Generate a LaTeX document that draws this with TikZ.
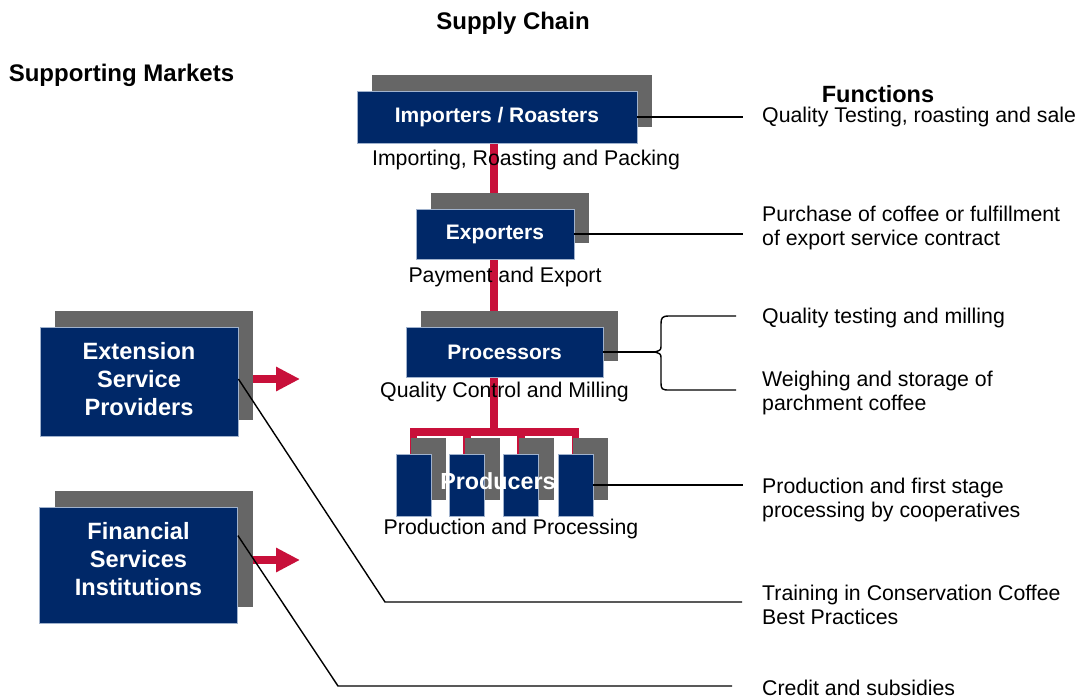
\documentclass[tikz,border=0pt]{standalone}
\usepackage{fontspec}
\setmainfont{Liberation Sans}
\usetikzlibrary{arrows.meta,shadows,backgrounds}

\definecolor{navy}{RGB}{0,40,104}
\definecolor{boxedge}{RGB}{160,178,205}
\definecolor{shade}{RGB}{102,102,102}
\definecolor{chainred}{RGB}{200,16,58}

\tikzset{
  stage/.style={draw=boxedge, line width=0.8pt, fill=navy, text=white, inner sep=0pt,
    font=\fontsize{21}{24}\selectfont\bfseries,
    general shadow={fill=shade, shadow xshift=15pt, shadow yshift=16pt}},
  market/.style={stage, minimum width=198pt},
  markettext/.style={inner sep=0pt, text=white, align=center, font=\fontsize{23.6}{28}\selectfont\bfseries},
  grower/.style={stage, minimum width=35pt, minimum height=62pt},
  caption/.style={inner sep=0pt, font=\fontsize{21.3}{24}\selectfont},
  func/.style={caption, anchor=west, align=left},
  heading/.style={inner sep=0pt, font=\fontsize{23.5}{28}\selectfont\bfseries},
  link/.style={draw, line width=1.4pt},
  chain/.style={draw=chainred, line width=7.5pt},
  push/.style={draw=chainred, line width=8pt, -{Triangle[length=24pt,width=23pt]}}
}

\begin{document}
\begin{tikzpicture}[x=1pt,y=-1pt]
\useasboundingbox (0,0) rectangle (1081,698);

% headings
\node[heading, font=\fontsize{24}{28}\selectfont\bfseries] (title) at (513,23) {Supply Chain};
\node[heading, font=\fontsize{24}{28}\selectfont\bfseries] (markets) at (121.5,75) {Supporting Markets};
\node[heading] (functions) at (878,94.5) {Functions};

% supply chain
\node[stage, minimum width=280pt, minimum height=52pt] (imp) at (497,117) {Importers / Roasters};
\node[caption] (impcap) at (526,160) {Importing, Roasting and Packing};

\node[stage, minimum width=158pt, minimum height=50pt] (exp) at (495,234) {Exporters};
\node[caption] (expcap) at (505,277) {Payment and Export};

\node[stage, minimum width=197pt, minimum height=50pt] (proc) at (504.5,352) {Processors};
\node[caption] (proccap) at (504.5,392) {Quality Control and Milling};

\foreach \n/\x in {1/413.5,2/467,3/521,4/575.5}
  \node[grower] (p\n) at (\x,485) {};
\node[heading, text=white, font=\fontsize{23.3}{28}\selectfont\bfseries] (prodtxt) at (498,481) {Producers};
\node[caption] (prodcap) at (511,529) {Production and Processing};

% supporting markets
\node[market, minimum height=109pt] (ext) at (139,381.5) {};
\node[markettext] (exttxt) at (139,379.5) {Extension\\Service\\Providers};
\node[market, minimum height=116pt] (fin) at (138.5,565) {};
\node[markettext] (fintxt) at (138.5,559) {Financial\\Services\\Institutions};

% functions
\node[func] (f1) at (762,117) {Quality Testing, roasting and sale};
\node[func] (f2) at (762,227.5) {Purchase of coffee or fulfillment\\of export service contract};
\node[func] (f3) at (762,318) {Quality testing and milling};
\node[func] (f4) at (762,393) {Weighing and storage of\\parchment coffee};
\node[func] (f5) at (762,500) {Production and first stage\\processing by cooperatives};
\node[func] (f6) at (762,605) {Training in Conservation Coffee\\Best Practices};
\node[func] (f7) at (762,687.5) {Credit and subsidies};

\coordinate (rim) at (743,0);
\coordinate (spine) at (494,0);
\coordinate (bar) at (0,432);
\coordinate (tip) at (655,352);
\coordinate (extbend) at (385,602);
\coordinate (extend) at (742,602);
\coordinate (finbend) at (338,686);
\coordinate (finend) at (732,686);
\coordinate (extgoal) at (300,379);
\coordinate (fingoal) at (300,560);

% red chain and arrows, behind the boxes
\begin{scope}[on background layer]
\path[chain] (imp.south -| spine) -- (bar -| spine);
\path[chain] (p1.north) -- (p1.north |- bar) -- (p4.north |- bar) -- (p4.north);
\path[chain] (p2.north) -- (p2.north |- bar);
\path[chain] (p3.north) -- (p3.north |- bar);
\path[push] ([yshift=2.5pt]ext.east) -- (extgoal);
\path[push] ([yshift=5pt]fin.east) -- (fingoal);
\end{scope}

% connectors to the functions
\path[link] (imp.east) -- (imp.east -| rim);
\path[link] (exp.east) -- (exp.east -| rim);
\path[link] (p4.east) -- (p4.east -| rim);
\path[link] (proc.east) -- (tip);
\path[link] (736,316) -- (669,316) .. controls (662,316) and (661,318) .. (661,324)
  -- (661,345) .. controls (661,350) .. (tip) .. controls (661,354) .. (661,359)
  -- (661,383) .. controls (661,389) and (662,390) .. (669,390) -- (736,390);
\path[link] ([yshift=2.5pt]ext.east) -- (extbend) -- (extend);
\path[link] ([yshift=-29pt]fin.north east) -- (finbend) -- (finend);
\end{tikzpicture}
\end{document}
